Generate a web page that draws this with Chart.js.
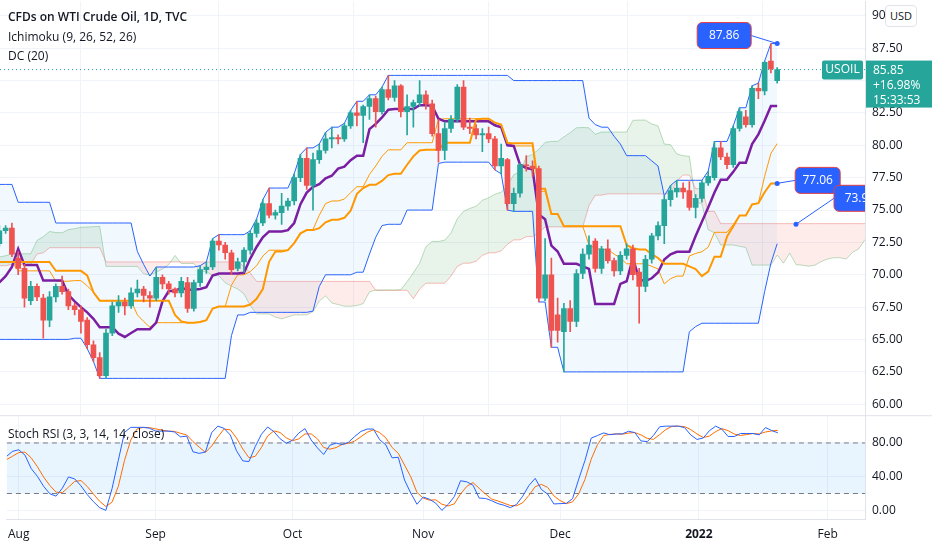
<!DOCTYPE html>
<html>
<head>
<meta charset="utf-8">
<script src="https://cdn.jsdelivr.net/npm/chart.js@4.4.1/dist/chart.umd.min.js"></script>
<style>
  html, body { margin: 0; padding: 0; background: #fff; }
  body { width: 932px; height: 550px; position: relative; overflow: hidden; font-family: "Open Sans", sans-serif; color: #131722; }
  #main { position: absolute; left: 0; top: -13px; }
  #osc { position: absolute; left: 0; top: 401px; }
  .legend { position: absolute; left: 8px; font-size: 12px; line-height: 19px; }
  #usd { position: absolute; left: 885px; top: 5px; width: 30px; height: 20px; border: 1px solid #e0e3eb; border-radius: 4px;
         background: #fff; font-size: 11px; text-align: center; line-height: 20px; }
</style>
</head>
<body>
<canvas id="main" width="932" height="443"></canvas>
<canvas id="osc" width="932" height="149"></canvas>
<div class="legend" style="top:7px;font-weight:600">CFDs on WTI Crude Oil, 1D, TVC</div>
<div class="legend" style="top:27px">Ichimoku (9, 26, 52, 26)</div>
<div class="legend" style="top:46px">DC (20)</div>
<div class="legend" style="top:424px">Stoch RSI (3, 3, 14, 14, close)</div>
<div id="usd">USD</div>
<script>
// daily bars, Jun 2 2021 .. Jan 20 2022; bar 42 is Aug 2 (x = 0)
const FIRST_VISIBLE = 42;
const opens = [
  67.7,68.8,68.8,69.6,69.2,70.1,70.0,70.3,70.9,70.9,72.1,72.2,71.0,71.6,73.7,73.1,73.1,73.3,74.1,72.9,
  73.0,73.5,75.2,75.2,73.4,72.2,72.9,74.6,74.1,75.3,73.1,71.7,71.8,66.4,67.4,70.3,71.9,72.1,71.9,71.7,72.4,73.4,
  73.6,71.3,70.5,68.0,69.1,68.2,66.5,68.3,69.1,68.7,
  67.6,67.3,66.5,64.6,63.6,62.2,65.5,67.6,67.9,67.6,
  68.6,68.9,68.4,68.2,69.8,69.3,68.9,68.6,69.4,67.4,
  69.4,70.4,70.6,72.6,72.3,71.7,70.5,71.0,71.9,73.2,
  74.0,75.5,74.6,74.8,75.3,75.7,77.5,79.0,76.9,78.9,
  79.6,80.5,80.6,80.5,81.5,82.5,82.3,83.0,83.6,82.6,
  84.3,83.7,84.6,82.6,83.0,83.3,83.9,83.2,80.9,79.6,
  81.3,82.0,84.5,81.4,81.3,80.8,80.9,80.5,78.4,78.9,
  75.5,76.3,78.5,78.4,78.2,68.2,70.0,66.9,65.6,67.4,
  66.4,70.1,71.6,72.6,70.5,72.0,71.1,70.3,71.5,72.0,
  70.2,69.1,71.2,73.0,73.8,75.8,76.4,76.7,76.5,75.2,
  75.9,77.1,77.5,79.8,79.1,78.5,81.3,82.2,81.6,84.4,
  84.2,86.5,85.0
];
const highs = [
  69.4,69.4,70.0,69.9,70.5,70.6,70.8,71.3,71.3,72.6,72.8,72.5,72.0,74.0,74.2,73.6,73.8,74.4,74.2,73.6,
  73.9,76.0,76.2,76.98,73.9,73.4,75.0,75.0,75.6,75.6,73.3,72.4,72.0,67.9,70.7,72.1,72.6,72.6,72.2,72.9,73.8,73.8,
  74.0,71.8,70.8,69.5,69.3,68.5,68.7,69.3,69.9,68.9,
  67.8,67.6,66.7,64.9,64.0,65.8,67.9,68.4,68.2,69.0,
  69.6,69.1,68.7,70.6,70.0,69.5,69.0,69.8,69.8,69.6,
  70.7,71.0,72.8,73.1,72.5,71.9,71.3,72.1,73.4,74.3,
  75.8,76.7,75.0,76.3,75.9,77.8,79.3,79.8,79.4,80.1,
  81.0,81.4,80.8,81.7,82.7,83.4,83.1,83.9,83.8,84.5,
  85.4,85.0,84.7,83.9,83.5,85.0,84.2,83.5,82.0,81.8,
  82.3,84.7,85.0,82.1,81.6,81.3,81.4,80.7,80.1,79.0,
  76.7,78.6,79.2,78.8,78.4,72.8,71.3,68.2,67.8,68.0,
  70.4,72.0,73.0,72.8,72.2,72.7,71.3,71.8,72.4,72.3,
  70.5,71.5,73.2,74.1,76.1,76.9,77.3,77.1,77.2,76.2,
  77.3,78.0,80.3,80.3,79.4,81.5,82.9,82.7,84.6,84.8,
  86.5,87.86,86.0
];
const lows = [
  67.2,68.2,68.5,68.9,69.0,69.6,69.7,69.9,70.3,70.5,71.6,70.6,70.5,71.4,72.8,72.6,72.8,73.0,72.5,72.2,
  72.7,73.3,74.6,72.9,71.9,71.8,72.7,73.6,73.9,72.9,71.3,71.3,65.01,66.0,67.2,70.0,71.5,71.3,71.0,71.5,72.2,73.2,
  71.4,70.0,67.5,67.7,68.0,65.1,66.0,67.9,68.5,67.3,
  66.9,65.5,64.3,63.3,62.0,62.0,65.3,67.1,66.9,67.4,
  68.3,67.9,67.5,68.0,68.9,68.5,68.3,68.3,67.1,67.2,
  69.1,70.1,70.4,71.9,71.2,70.0,70.3,70.2,71.6,72.9,
  73.8,74.4,74.3,73.9,75.0,75.4,77.2,76.6,75.0,78.6,
  79.4,79.8,80.1,80.3,81.3,81.5,80.2,82.0,81.4,82.4,
  83.5,83.4,82.2,80.8,81.4,83.0,82.8,80.7,78.7,78.9,
  81.0,81.8,81.2,80.9,80.5,79.5,80.2,78.1,77.8,75.0,
  74.9,76.0,78.0,77.6,67.9,68.0,64.4,64.8,62.5,65.6,
  66.0,69.7,71.2,70.2,70.1,70.9,69.9,70.0,71.2,69.6,
  66.26,68.7,70.9,72.7,72.4,75.3,76.0,75.9,75.0,74.4,
  75.6,76.9,77.3,78.9,78.2,78.3,81.1,81.4,81.4,83.6,
  83.9,85.6,84.8
];
const closes = [
  68.8,68.8,69.6,69.2,70.1,70.0,70.3,70.9,70.9,72.1,72.2,71.0,71.6,73.7,73.1,73.1,73.3,74.1,72.9,73.0,
  73.5,75.2,75.2,73.4,72.2,72.9,74.6,74.1,75.3,73.1,71.7,71.8,66.4,67.4,70.3,71.9,72.1,71.9,71.7,72.4,73.4,73.6,
  71.6,70.5,68.2,69.1,68.3,66.5,68.3,69.1,68.7,67.6,
  67.3,66.4,64.6,63.6,62.2,65.5,67.6,67.9,67.6,68.6,
  68.9,68.4,68.2,69.8,69.3,68.9,68.6,69.5,67.4,69.4,
  70.4,70.6,72.6,72.3,71.7,70.4,71.0,71.9,73.2,74.0,
  75.5,74.6,74.8,75.3,75.7,77.5,79.0,76.9,78.9,79.6,
  80.5,80.6,80.5,81.5,82.5,82.3,83.0,83.6,82.6,84.3,
  83.7,84.6,82.6,83.0,83.3,83.9,83.2,80.9,79.6,81.3,
  82.0,84.5,81.4,81.3,80.8,80.9,80.5,78.4,79.0,75.5,
  76.3,78.5,78.4,78.2,68.2,70.0,65.7,65.7,67.4,66.4,
  70.1,71.6,72.3,70.5,72.0,71.1,70.3,71.5,72.0,70.0,
  69.1,71.2,73.0,73.8,75.8,76.5,76.7,76.4,75.2,75.9,
  77.1,77.6,79.8,79.1,78.5,81.3,82.6,81.6,84.4,84.2,
  86.4,85.9,85.85
];
const priceTicks = [60, 62.5, 65, 67.5, 70, 72.5, 75, 77.5, 80, 82.5, 85, 87.5, 90];
const oscTicks = [0, 40, 80];
const monthTicks = [0, 22, 44, 65, 87, 109.3, 130];
const monthLabels = ['Aug', 'Sep', 'Oct', 'Nov', 'Dec', '2022', 'Feb'];
const lastChange = '+16.98%';
const countdown = '15:33:53';
const cloudMarker = { x: 125, y: 73.9, label: '73.9' };

const X_MIN = -1.9, X_MAX = 136;
const UP = '#26a69a', DOWN = '#ef5350';
const FONT = '"Open Sans", sans-serif';
const n = closes.length;
const xs = closes.map((_, k) => k - FIRST_VISIBLE);

function midRange(k, len) {
  let hi = -Infinity, lo = Infinity;
  for (let j = Math.max(0, k - len + 1); j <= k; j++) { hi = Math.max(hi, highs[j]); lo = Math.min(lo, lows[j]); }
  return [hi, lo, (hi + lo) / 2];
}

// Ichimoku + Donchian
const tenkan = [], kijun = [], spanA = [], spanB = [], dcUp = [], dcLo = [], dcMid = [];
for (let k = 0; k < n; k++) {
  const t = midRange(k, 9)[2], kj = midRange(k, 26)[2], d = midRange(k, 20);
  tenkan.push({ x: xs[k], y: t });
  kijun.push({ x: xs[k], y: kj });
  dcUp.push({ x: xs[k], y: d[0] });
  dcLo.push({ x: xs[k], y: d[1] });
  dcMid.push({ x: xs[k], y: d[2] });
  spanA.push({ x: xs[k] + 25, y: (t + kj) / 2 });
  spanB.push({ x: xs[k] + 25, y: midRange(k, 52)[2] });
}

// Stoch RSI (3, 3, 14, 14)
const rsi = new Array(n).fill(null);
let ag = 0, al = 0;
for (let k = 1; k < n; k++) {
  const ch = closes[k] - closes[k - 1], g = Math.max(ch, 0), l = Math.max(-ch, 0);
  if (k <= 14) { ag += g / 14; al += l / 14; }
  else { ag = (ag * 13 + g) / 14; al = (al * 13 + l) / 14; }
  if (k >= 14) rsi[k] = al === 0 ? 100 : 100 - 100 / (1 + ag / al);
}
const raw = new Array(n).fill(null);
for (let k = 27; k < n; k++) {
  const w = rsi.slice(k - 13, k + 1);
  const hi = Math.max(...w), lo = Math.min(...w);
  raw[k] = hi === lo ? 100 : (rsi[k] - lo) / (hi - lo) * 100;
}
const sma3 = a => a.map((v, k) => (k >= 2 && a[k] != null && a[k - 2] != null) ? (a[k] + a[k - 1] + a[k - 2]) / 3 : null);
const kLine = sma3(raw), dLine = sma3(kLine);

const wicks = xs.map((x, k) => ({ x, y: [lows[k], highs[k]] }));
const bodies = xs.map((x, k) => ({ x, y: [opens[k], closes[k]] }));
const candleColor = ctx => closes[ctx.dataIndex] >= opens[ctx.dataIndex] ? UP : DOWN;

const fitAxis = s => { s.width = 67; };
const xGrid = { color: '#f0f3fa', drawTicks: false };

function roundRect(ctx, x, y, w, h, r) {
  ctx.beginPath();
  ctx.roundRect(x, y, w, h, r);
}

const overlay = {
  id: 'overlay',
  afterDatasetsDraw(chart) {
    const { ctx, chartArea: a, scales: { x, y } } = chart;
    ctx.save();
    // last price line
    const last = closes[n - 1], ly = y.getPixelForValue(last);
    ctx.strokeStyle = UP; ctx.lineWidth = 1; ctx.setLineDash([1, 3]);
    ctx.beginPath(); ctx.moveTo(a.left, ly); ctx.lineTo(a.right, ly); ctx.stroke();
    ctx.setLineDash([]);

    ctx.beginPath(); ctx.rect(a.left, a.top, a.right - a.left, a.bottom - a.top); ctx.clip();
    ctx.font = '12px ' + FONT; ctx.textAlign = 'center'; ctx.textBaseline = 'middle';
    const tag = (dx, dy, bx, by, w, txt, anchorLeft) => {
      ctx.strokeStyle = '#2962ff'; ctx.lineWidth = 1;
      ctx.beginPath(); ctx.moveTo(dx, dy); ctx.lineTo(anchorLeft ? bx : bx + w, by + 13); ctx.stroke();
      ctx.fillStyle = '#2962ff';
      ctx.beginPath(); ctx.arc(dx, dy, 2.5, 0, Math.PI * 2); ctx.fill();
      roundRect(ctx, bx, by, w, 26, 5);
      ctx.fill(); ctx.strokeStyle = '#e0404a'; ctx.stroke();
      ctx.fillStyle = '#fff'; ctx.fillText(txt, bx + w / 2, by + 13.5);
    };
    const hx = x.getPixelForValue(xs[n - 1]), hy = y.getPixelForValue(highs[n - 2]);
    tag(hx, hy, hx - 80, hy - 21, 54, highs[n - 2].toFixed(2), false);
    const ky = y.getPixelForValue(kijun[n - 1].y);
    tag(hx, ky, hx + 18, ky - 16, 45, kijun[n - 1].y.toFixed(2), true);
    const cx = x.getPixelForValue(cloudMarker.x), cy = y.getPixelForValue(cloudMarker.y);
    tag(cx, cy, cx + 38, cy - 39, 45, cloudMarker.label, true);

    // symbol tag
    ctx.fillStyle = UP; roundRect(ctx, a.right - 43, ly - 9, 41, 19, 2); ctx.fill();
    ctx.fillStyle = '#fff'; ctx.fillText('USOIL', a.right - 22.5, ly + 0.5);
    ctx.restore();

    // price label on the axis
    ctx.save();
    ctx.fillStyle = UP; ctx.fillRect(a.right + 1, ly - 9, 66, 47);
    ctx.fillStyle = '#fff'; ctx.font = '12px ' + FONT; ctx.textAlign = 'left'; ctx.textBaseline = 'middle';
    ctx.fillText(last.toFixed(2), a.right + 8, ly + 1);
    ctx.fillText(lastChange, a.right + 8, ly + 16);
    ctx.fillText(countdown, a.right + 8, ly + 31);
    ctx.restore();
  }
};

const line = (data, color, width, extra) => Object.assign({
  type: 'line', data, borderColor: color, borderWidth: width, pointRadius: 0, tension: 0, fill: false, order: 2
}, extra || {});

new Chart(document.getElementById('main'), {
  type: 'bar',
  data: {
    datasets: [
      { type: 'bar', data: wicks, backgroundColor: candleColor, barThickness: 1, grouped: false, order: 1 },
      { type: 'bar', data: bodies, backgroundColor: candleColor, barThickness: 5, grouped: false, minBarLength: 1, order: 0 },
      line(spanA, 'rgba(67,160,71,0.35)', 1, { fill: { target: 3, above: 'rgba(67,160,71,0.12)', below: 'rgba(244,67,54,0.1)' }, order: 5 }),
      line(spanB, 'rgba(244,67,54,0.35)', 1, { order: 5 }),
      line(dcUp, '#2962ff', 1, { fill: { target: 5, above: 'rgba(33,150,243,0.06)', below: 'rgba(33,150,243,0.06)' }, order: 4 }),
      line(dcLo, '#2962ff', 1, { order: 4 }),
      line(dcMid, '#ff9800', 1, { order: 3 }),
      line(kijun, '#ff9800', 2),
      line(tenkan, '#7b1fa2', 2.5)
    ]
  },
  options: {
    responsive: false, animation: false, events: [],
    layout: { padding: 0 },
    plugins: { legend: { display: false }, tooltip: { enabled: false } },
    scales: {
      x: {
        type: 'linear', min: X_MIN, max: X_MAX, offset: false,
        afterBuildTicks: s => { s.ticks = monthTicks.map(v => ({ value: v })); },
        ticks: { display: false }, grid: xGrid, border: { display: false }
      },
      y: {
        position: 'right', min: 59.11, max: 91.13, afterFit: fitAxis,
        afterBuildTicks: s => { s.ticks = priceTicks.map(v => ({ value: v })); },
        ticks: { color: '#131722', font: { size: 12, family: FONT }, padding: 7, callback: v => v.toFixed(2) },
        grid: { color: '#f0f3fa', drawTicks: false }, border: { color: '#e0e3eb' }
      }
    }
  },
  plugins: [overlay]
});

const band = {
  id: 'band',
  beforeDatasetsDraw(chart) {
    const { ctx, chartArea: a, scales: { y } } = chart;
    const y80 = y.getPixelForValue(oscTicks[2]), y20 = y.getPixelForValue(20);
    ctx.save();
    ctx.fillStyle = 'rgba(33,150,243,0.1)';
    ctx.fillRect(a.left, y80, a.right - a.left, y20 - y80);
    ctx.strokeStyle = '#787b86'; ctx.setLineDash([5, 4]); ctx.lineWidth = 1;
    [y80, y20].forEach(p => { ctx.beginPath(); ctx.moveTo(a.left, p); ctx.lineTo(a.right, p); ctx.stroke(); });
    ctx.restore();
  },
  afterDraw(chart) {
    const { ctx, chartArea: a } = chart;
    ctx.save(); ctx.strokeStyle = '#e0e3eb';
    ctx.beginPath(); ctx.moveTo(0, a.top + 0.5); ctx.lineTo(chart.width, a.top + 0.5); ctx.stroke();
    ctx.restore();
  }
};

new Chart(document.getElementById('osc'), {
  type: 'line',
  data: {
    datasets: [
      line(xs.map((x, k) => ({ x, y: kLine[k] })), '#2962ff', 1),
      line(xs.map((x, k) => ({ x, y: dLine[k] })), '#ff6d00', 1)
    ]
  },
  options: {
    responsive: false, animation: false, events: [],
    layout: { padding: 0 },
    plugins: { legend: { display: false }, tooltip: { enabled: false } },
    scales: {
      x: {
        type: 'linear', min: X_MIN, max: X_MAX, offset: false,
        afterBuildTicks: s => { s.ticks = monthTicks.map(v => ({ value: v })); },
        ticks: {
          color: '#131722', padding: 8, maxRotation: 0, autoSkip: false,
          font: c => ({ size: 12, family: FONT, weight: c.tick && c.index === 5 ? 'bold' : 'normal' }),
          callback: (v, i) => monthLabels[i]
        },
        grid: xGrid, border: { color: '#e0e3eb' }
      },
      y: {
        position: 'right', min: -11, max: 113, afterFit: fitAxis,
        afterBuildTicks: s => { s.ticks = oscTicks.map(v => ({ value: v })); },
        ticks: { color: '#131722', font: { size: 12, family: FONT }, padding: 7, callback: v => v.toFixed(2) },
        grid: { color: '#f0f3fa', drawTicks: false }, border: { color: '#e0e3eb' }
      }
    }
  },
  plugins: [band]
});
</script>
</body>
</html>
